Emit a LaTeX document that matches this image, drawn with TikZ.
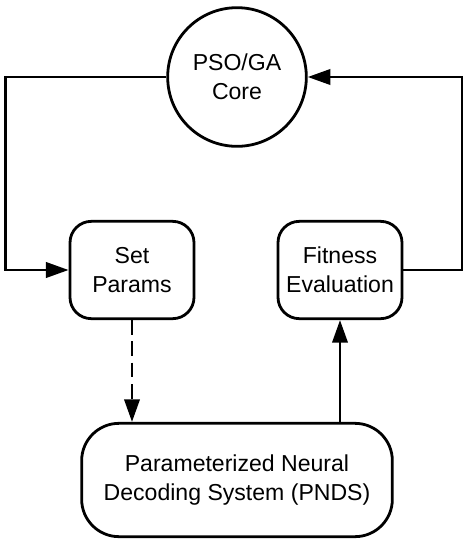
\documentclass[tikz,border=0pt]{standalone}
\usepackage{fontspec}
\setmainfont{Liberation Sans}
\usetikzlibrary{arrows.meta}
\usetikzlibrary{calc}
\usetikzlibrary{positioning}

\begin{document}
\begin{tikzpicture}[x=0.75pt,y=-0.75pt,-,auto,line width=2.1pt,
    >={Triangle[length=17pt,width=11.5pt]}]
 				 \tikzstyle{core}=[draw, circle, minimum size=104pt, inner sep=0pt, align=center, font=\fontsize{17.3}{21.5}\selectfont]
 				 \tikzstyle{stage}=[draw, rounded corners=16pt, minimum width=93pt, minimum height=73pt, align=center, font=\fontsize{17.3}{21.5}\selectfont]
 				 \tikzstyle{system}=[draw, rounded corners=28pt, minimum width=233pt, minimum height=85pt, align=center, font=\fontsize{17.3}{21.5}\selectfont]
 				 \useasboundingbox (0,0) rectangle (468,543);
						\node[core]  (C) at (237,77) {PSO/GA\\Core};
						\node[stage] (S) at (132,270) {Set\\Params};
						\node[stage] (F) at (340,270) {Fitness\\Evaluation};
						\node[system] (P) at (237,480) {Parameterized Neural\\Decoding System (PNDS)};
						\coordinate (L) at (5.5,77);
						\coordinate (R) at (462,77);
						
						\draw[->] (C.west) -- (L) |- (S.west);
						\draw[->] (F.east) -| (R) -- (C.east);
						\draw[->, dash pattern=on 11pt off 5pt] (S.south) -- (S.south |- P.north);
						\draw[->] (P.north -| F.south) -- (F.south);
			
 				\end{tikzpicture}
\end{document}
